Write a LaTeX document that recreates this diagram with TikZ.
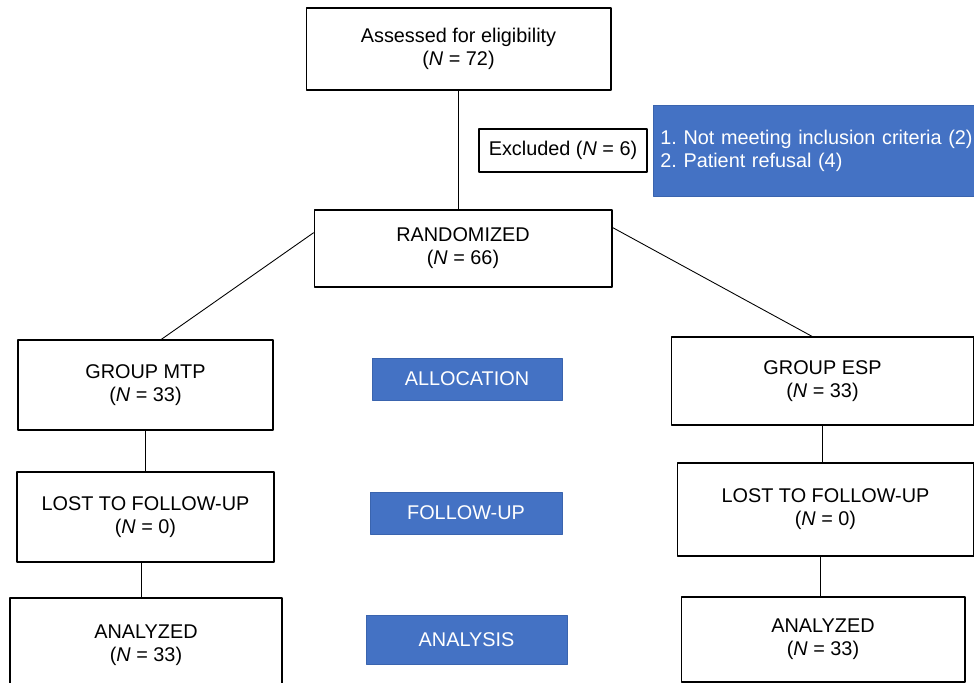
\documentclass[tikz,border=0pt]{standalone}
\usepackage{fontspec}
\setmainfont{Liberation Sans}
\frenchspacing
\definecolor{boxblue}{HTML}{4472C4}
\definecolor{boxedge}{HTML}{3A64AE}

\begin{document}
\begin{tikzpicture}[x=0.02cm,y=-0.02cm,line cap=round,line join=round,
  every node/.style={font=\fontsize{11.3}{13.2}\selectfont,inner sep=2pt},
  box/.style={draw,line width=0.6pt,align=center},
  bluebox/.style={fill=boxblue,draw=boxedge,line width=0.4pt,text=white,align=center}]
  \useasboundingbox (0,0) rectangle (974,683);
  \node[box,minimum width=6.1cm,minimum height=1.64cm] (assess) at (458.5,49) {Assessed for eligibility\\(\textit{N} = 72)};
  \node[box,minimum width=3.36cm,minimum height=0.86cm] (excl) at (563,150.5) {Excluded (\textit{N} = 6)};
  \node[bluebox,anchor=west,minimum height=1.82cm,text width=6.4cm,align=left,inner xsep=0.14cm] (reasons) at (653,150.5) {1. Not meeting inclusion criteria (2)\\2. Patient refusal (4)};
  \node[box,minimum width=5.96cm,minimum height=1.54cm] (rand) at (463,248.5) {RANDOMIZED\\(\textit{N} = 66)};
  \node[box,minimum width=5.1cm,minimum height=1.8cm] (mtp) at (145.5,385) {GROUP MTP\\(\textit{N} = 33)};
  \node[box,minimum width=6.06cm,minimum height=1.76cm] (esp) at (822.5,381) {GROUP ESP\\(\textit{N} = 33)};
  \node[bluebox,minimum width=3.8cm,minimum height=0.84cm] (alloc) at (467,379) {ALLOCATION};
  \node[box,minimum width=5.14cm,minimum height=1.8cm] (lostm) at (145.5,517) {LOST TO FOLLOW-UP\\(\textit{N} = 0)};
  \node[box,minimum width=5.94cm,minimum height=1.86cm] (loste) at (825.5,509.5) {LOST TO FOLLOW-UP\\(\textit{N} = 0)};
  \node[bluebox,minimum width=3.84cm,minimum height=0.84cm] (follow) at (466,513) {FOLLOW-UP};
  \node[box,minimum width=5.44cm,minimum height=1.9cm] (anam) at (146,645.5) {ANALYZED\\(\textit{N} = 33)};
  \node[box,minimum width=5.68cm,minimum height=1.7cm] (anae) at (823,639.5) {ANALYZED\\(\textit{N} = 33)};
  \node[bluebox,minimum width=4.02cm,minimum height=0.98cm] (analysis) at (466.5,639.5) {ANALYSIS};
  \draw[line width=0.5pt] (assess.south) -- (assess.south |- rand.north);
  \draw[line width=0.5pt] (rand.174) -- (mtp.71);
  \draw[line width=0.5pt] (rand.8) -- (esp.103);
  \draw[line width=0.5pt] (mtp.south) -- (lostm.north);
  \draw[line width=0.5pt] ([xshift=-0.09cm]lostm.south) -- ([xshift=-0.09cm]lostm.south |- anam.north);
  \draw[line width=0.5pt] (esp.south) -- (esp.south |- loste.north);
  \draw[line width=0.5pt] ([xshift=-0.1cm]loste.south) -- ([xshift=-0.1cm]loste.south |- anae.north);
\end{tikzpicture}
\end{document}
